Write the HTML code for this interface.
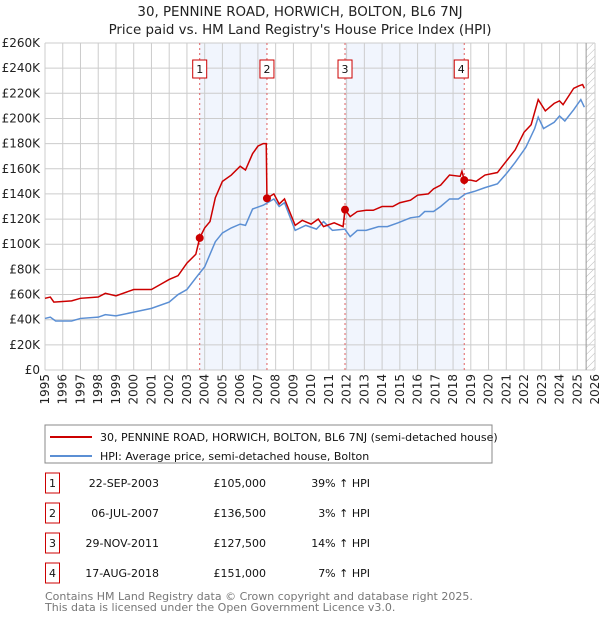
<!DOCTYPE html>
<html><head><meta charset="utf-8"><style>
body{margin:0;background:#fff;font-family:"Liberation Sans","DejaVu Sans",sans-serif;}
svg text{font-family:"DejaVu Sans","Liberation Sans",sans-serif;}
</style></head><body>
<svg id="c" width="600" height="620" xmlns="http://www.w3.org/2000/svg">
<text x="300" y="16" text-anchor="middle" font-size="13.4" fill="#222">30, PENNINE ROAD, HORWICH, BOLTON, BL6 7NJ</text>
<text x="300" y="34" text-anchor="middle" font-size="13.4" fill="#222">Price paid vs. HM Land Registry's House Price Index (HPI)</text>
<defs><pattern id="hatch" width="5" height="5" patternUnits="userSpaceOnUse" patternTransform="rotate(45)"><line x1="0" y1="0" x2="0" y2="5" stroke="#bbb" stroke-width="1"/></pattern></defs>
<g id="plot"></g>
<rect x="45" y="425" width="447" height="38" fill="#fff" stroke="#888"/>
<line x1="50" y1="437" x2="92" y2="437" stroke="#cc0000" stroke-width="2"/>
<text x="100" y="441" font-size="11" fill="#111">30, PENNINE ROAD, HORWICH, BOLTON, BL6 7NJ (semi-detached house)</text>
<line x1="50" y1="456" x2="92" y2="456" stroke="#5b8fd4" stroke-width="2"/>
<text x="100" y="460" font-size="11" fill="#111">HPI: Average price, semi-detached house, Bolton</text>
<g id="table" font-size="11" fill="#111"></g>
<text x="45" y="600" font-size="11" fill="#777">Contains HM Land Registry data © Crown copyright and database right 2025.</text>
<text x="45" y="611" font-size="11" fill="#777">This data is licensed under the Open Government Licence v3.0.</text>
</svg>
<script>
const yTicks=[0,20,40,60,80,100,120,140,160,180,200,220,240,260];
const years=[1995,1996,1997,1998,1999,2000,2001,2002,2003,2004,2005,2006,2007,2008,2009,2010,2011,2012,2013,2014,2015,2016,2017,2018,2019,2020,2021,2022,2023,2024,2025,2026];
const hpiT=[1995,1995.3,1995.6,1996,1996.5,1997,1998,1998.4,1999,2000,2001,2002,2002.5,2003,2003.6,2004,2004.6,2005,2005.5,2006,2006.3,2006.7,2007.3,2007.9,2008.2,2008.5,2009.1,2009.7,2010.3,2010.7,2011.2,2011.9,2012.2,2012.6,2013.1,2013.8,2014.3,2014.9,2015.6,2016.1,2016.4,2016.9,2017.3,2017.8,2018.3,2018.7,2019.2,2019.8,2020.5,2021,2021.5,2022.1,2022.6,2022.8,2023.1,2023.7,2024,2024.3,2024.8,2025.2,2025.4];
const hpiV=[41,42,39,39,39,41,42,44,43,46,49,54,60,64,75,82,102,109,113,116,115,128,131,136,130,133,111,115,112,118,111,112,106,111,111,114,114,117,121,122,126,126,130,136,136,140,142,145,148,156,165,177,192,201,192,197,202,198,207,215,209];
const priceT=[1995,1995.3,1995.5,1996.5,1997,1998,1998.4,1999,2000,2001,2001.5,2002,2002.5,2003,2003.5,2003.72,2004,2004.3,2004.6,2005,2005.5,2006,2006.3,2006.7,2007,2007.3,2007.47,2007.51,2007.9,2008.2,2008.5,2009.1,2009.5,2010,2010.4,2010.7,2011.3,2011.8,2011.91,2012.2,2012.6,2013.1,2013.5,2014,2014.6,2015,2015.6,2016,2016.6,2016.9,2017.3,2017.8,2018.4,2018.5,2018.63,2019,2019.3,2019.8,2020.5,2021,2021.5,2022,2022.4,2022.8,2023.2,2023.7,2024,2024.2,2024.8,2025.1,2025.3,2025.4];
const priceV=[57,58,54,55,57,58,61,59,64,64,68,72,75,85,92,105,113,118,137,150,155,162,159,172,178,180,180,136.5,140,132,136,115,119,116,120,114,117,114,127.5,122,126,127,127,130,130,133,135,139,140,144,147,155,154,158,151,151,150,155,157,166,175,189,195,215,206,212,214,211,224,226,227,224];
const saleLabels=["1","2","3","4"];
const saleT=[2003.72,2007.51,2011.91,2018.63];
const saleV=[105,136.5,127.5,151];
const saleDates=["22-SEP-2003","06-JUL-2007","29-NOV-2011","17-AUG-2018"];
const salePrices=["£105,000","£136,500","£127,500","£151,000"];
const saleHpi=["39% ↑ HPI","3% ↑ HPI","14% ↑ HPI","7% ↑ HPI"];
const X0=45,X1=595,Y0=370,Y1=43;
const xs=t=>X0+(t-1995)/31*(X1-X0);
const ys=v=>Y0-v/260*(Y0-Y1);
const NS="http://www.w3.org/2000/svg";
const g=document.getElementById('plot');
function mk(tag,attrs,parent){const e=document.createElementNS(NS,tag);for(const k in attrs)e.setAttribute(k,attrs[k]);(parent||g).appendChild(e);return e;}
for(let i=0;i<2;i++){const r=mk('rect',{x:xs(saleT[i*2]),y:Y1,width:xs(saleT[i*2+1])-xs(saleT[i*2]),height:Y0-Y1,fill:'#f1f5fd'});

}
const hr=mk('rect',{x:xs(2025.5),y:Y1,width:X1-xs(2025.5),height:Y0-Y1,fill:'url(#hatch)'});


years.forEach(y=>{const l=mk('line',{x1:xs(y),x2:xs(y),y1:Y1,y2:Y0,stroke:'#ccc'});


const t=mk('text',{x:0,y:0,'font-size':12,fill:'#222','text-anchor':'end',transform:`translate(${xs(y)+4},${Y0+4}) rotate(-90)`});t.textContent=y;

});
yTicks.forEach(v=>{const l=mk('line',{x1:X0,x2:X1,y1:ys(v),y2:ys(v),stroke:'#ccc'});


const t=mk('text',{x:40,y:ys(v)+4,'font-size':12,fill:'#222','text-anchor':'end'});t.textContent=v===0?'£0':'£'+v+'K';

});
const el=mk('line',{x1:xs(2025.5),x2:xs(2025.5),y1:Y1,y2:Y0,stroke:'#999'});


saleT.forEach((t,i)=>{const l=mk('line',{x1:xs(t),x2:xs(t),y1:Y1,y2:Y0,stroke:'#e06060','stroke-dasharray':'2,3'});


const r=mk('rect',{x:xs(t)-7-(i==3?3:0),y:60,width:14,height:18,fill:'#fff',stroke:'#cc0000'});


const tx=mk('text',{x:xs(t)-(i==3?3:0),y:73,'font-size':11,'text-anchor':'middle',fill:'#111'});tx.textContent=saleLabels[i];

});
const hp=mk('polyline',{points:hpiT.map((t,i)=>xs(t)+','+ys(hpiV[i])).join(' '),fill:'none',stroke:'#5b8fd4','stroke-width':1.5});


const pp=mk('polyline',{points:priceT.map((t,i)=>xs(t)+','+ys(priceV[i])).join(' '),fill:'none',stroke:'#cc0000','stroke-width':1.5});


saleT.forEach((t,i)=>{const c=mk('circle',{cx:xs(t),cy:ys(saleV[i]),r:4,fill:'#cc0000'});

});
const tb=document.getElementById('table');
saleT.forEach((t,i)=>{const y=483+i*30;
const r=mk('rect',{x:45.5,y:y-10,width:14,height:20,fill:'#fff',stroke:'#cc0000'},tb);


const a=mk('text',{x:52.5,y:y+4,'text-anchor':'middle'},tb);a.textContent=saleLabels[i];


const d=mk('text',{x:159,y:y+4,'text-anchor':'end'},tb);d.textContent=saleDates[i];


const p=mk('text',{x:266,y:y+4,'text-anchor':'end'},tb);p.textContent=salePrices[i];


const h=mk('text',{x:370,y:y+4,'text-anchor':'end'},tb);h.textContent=saleHpi[i];

});
</script>
</body></html>
